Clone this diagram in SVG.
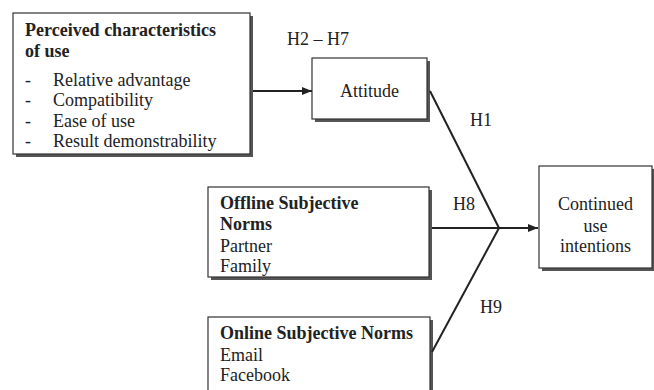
<svg xmlns="http://www.w3.org/2000/svg" width="654" height="390" viewBox="0 0 654 390">
<style>
.box{fill:#fff;stroke:#333;stroke-width:1.2}
.sh{fill:#555}
text{font-family:"Liberation Serif","Times New Roman",serif;font-size:18px;fill:#222}
.b{font-weight:bold}
.ln{stroke:#222;stroke-width:2;fill:none}
</style>
<defs>
<marker id="ah" markerWidth="10" markerHeight="8" refX="10" refY="4" orient="auto" markerUnits="userSpaceOnUse">
<path d="M0,0 L10,4 L0,8 Z" fill="#222"/>
</marker>
</defs>
<rect width="654" height="390" fill="#fff"/>
<g id="perceived">
<rect class="sh" x="16" y="16" width="237" height="141"/>
<rect class="box" x="13" y="13" width="237" height="141"/>
<text class="b" x="25" y="36">Perceived characteristics</text>
<text class="b" x="25" y="57">of use</text>
<text x="25" y="86">-</text><text x="53" y="86">Relative advantage</text>
<text x="25" y="106">-</text><text x="53" y="106">Compatibility</text>
<text x="25" y="127">-</text><text x="53" y="127">Ease of use</text>
<text x="25" y="147">-</text><text x="53" y="147">Result demonstrability</text>
</g>
<g id="attitude">
<rect class="sh" x="315" y="61" width="115" height="61"/>
<rect class="box" x="312" y="58" width="115" height="61"/>
<text x="369.5" y="97" text-anchor="middle">Attitude</text>
</g>
<g id="offline">
<rect class="sh" x="211" y="190" width="221" height="90"/>
<rect class="box" x="208" y="187" width="221" height="90"/>
<text class="b" x="220" y="209">Offline Subjective</text>
<text class="b" x="220" y="230">Norms</text>
<text x="220" y="252">Partner</text>
<text x="220" y="272">Family</text>
</g>
<g id="online">
<rect class="sh" x="211" y="320" width="222" height="80"/>
<rect class="box" x="208" y="317" width="222" height="80"/>
<text class="b" x="220" y="339">Online Subjective Norms</text>
<text x="220" y="361">Email</text>
<text x="220" y="381">Facebook</text>
</g>
<g id="continued">
<rect class="sh" x="542" y="169" width="113" height="102"/>
<rect class="box" x="539" y="166" width="113" height="102"/>
<text x="595.5" y="210" text-anchor="middle">Continued</text>
<text x="595.5" y="232" text-anchor="middle">use</text>
<text x="595.5" y="252" text-anchor="middle">intentions</text>
</g>
<g id="connectors">
<line class="ln" x1="253" y1="91" x2="312" y2="91" marker-end="url(#ah)"/>
<line class="ln" x1="430" y1="91" x2="499" y2="228"/>
<line class="ln" x1="432" y1="228" x2="499" y2="228"/>
<line class="ln" x1="499" y1="228" x2="538" y2="228" marker-end="url(#ah)"/>
<line class="ln" x1="499" y1="228" x2="432" y2="352"/>
<text x="287" y="45">H2 – H7</text>
<text x="470" y="126">H1</text>
<text x="453" y="210">H8</text>
<text x="480" y="313">H9</text>
</g>
</svg>
